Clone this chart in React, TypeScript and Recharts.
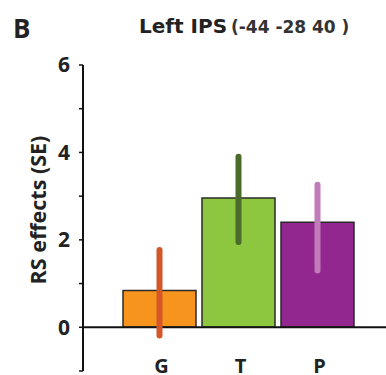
import React from 'react';
import { BarChart, Bar, XAxis, YAxis, Cell, ReferenceLine, Label } from 'recharts';

const categories = ['G', 'T', 'P'];
const means = [0.84, 2.96, 2.4];
const errLow = [-0.19, 1.95, 1.3];
const errHigh = [1.77, 3.9, 3.26];
const yTicks = [-1, 0, 1, 2, 3, 4, 5, 6];
const labeledTicks = [0, 2, 4, 6];

const barColors = ['#F7941D', '#8DC63F', '#92278F'];
const errColors = ['#D4572A', '#4B6B2B', '#C27BBA'];

const data = categories.map((c, i) => ({ name: c, value: means[i] }));

const FONT = '"Open Sans", sans-serif';
const TITLE_FONT = '"DejaVu Sans", sans-serif';

export default function App() {
  return (
    <div style={{ position: 'absolute', left: 0, top: 0, width: 386, height: 375, background: '#fff', fontFamily: FONT }}>
      <div style={{ position: 'absolute', left: 0, top: 0 }}>
        <BarChart
          width={386}
          height={375}
          data={data}
          margin={{ top: 65, right: 0, bottom: 0, left: 0 }}
          barCategoryGap={3}
        >
          <XAxis
            dataKey="name"
            axisLine={false}
            tickLine={false}
            tickSize={0}
            tickMargin={0}
            height={4}
            padding={{ left: 37, right: 29 }}
            tick={{ dy: -12, dx: 2, fontSize: 20, fontWeight: 700, fill: '#222', fontFamily: FONT }}
          />
          <YAxis
            domain={[-1, 6]}
            ticks={yTicks}
            interval={0}
            width={83}
            tickSize={4}
            tickMargin={9}
            axisLine={{ stroke: '#111', strokeWidth: 2 }}
            tickLine={{ stroke: '#111', strokeWidth: 1.5 }}
            tickFormatter={(v: number) => (labeledTicks.includes(v) ? String(v) : '')}
            tick={{ fontSize: 21, fontWeight: 700, fill: '#222', fontFamily: FONT }}
          >
            <Label
              content={() => (
                <text
                  x={37}
                  y={210}
                  transform="rotate(-90 37 210)"
                  textAnchor="middle"
                  dominantBaseline="central"
                  style={{ fontSize: 21.5, fontWeight: 700, fill: '#222', fontFamily: FONT }}
                >
                  RS effects (SE)
                </text>
              )}
            />
          </YAxis>
          <Bar dataKey="value" isAnimationActive={false} stroke="#2a2a2a" strokeWidth={1.5}>
            {data.map((d, i) => (
              <Cell key={d.name} fill={barColors[i]} />
            ))}
          </Bar>
          <ReferenceLine y={0} stroke="#111" strokeWidth={2} />
          {categories.map((c, i) => (
            <ReferenceLine
              key={c}
              segment={[
                { x: c, y: errLow[i] },
                { x: c, y: errHigh[i] },
              ]}
              stroke={errColors[i]}
              strokeWidth={6}
              strokeLinecap="round"
            />
          ))}
        </BarChart>
      </div>
      <svg width={386} height={50} style={{ position: 'absolute', left: 0, top: 0, pointerEvents: 'none' }}>
        <text x={13} y={38} style={{ fontSize: 26, fontWeight: 700, fill: '#222', fontFamily: FONT }}>B</text>
        <text x={139} y={33} style={{ fontSize: 20, fontWeight: 700, fill: '#222', fontFamily: TITLE_FONT }}>Left IPS</text>
        <text x={231} y={33} style={{ fontSize: 17, fontWeight: 700, fill: '#333', fontFamily: TITLE_FONT }}>(-44 -28 40 )</text>
      </svg>
    </div>
  );
}
